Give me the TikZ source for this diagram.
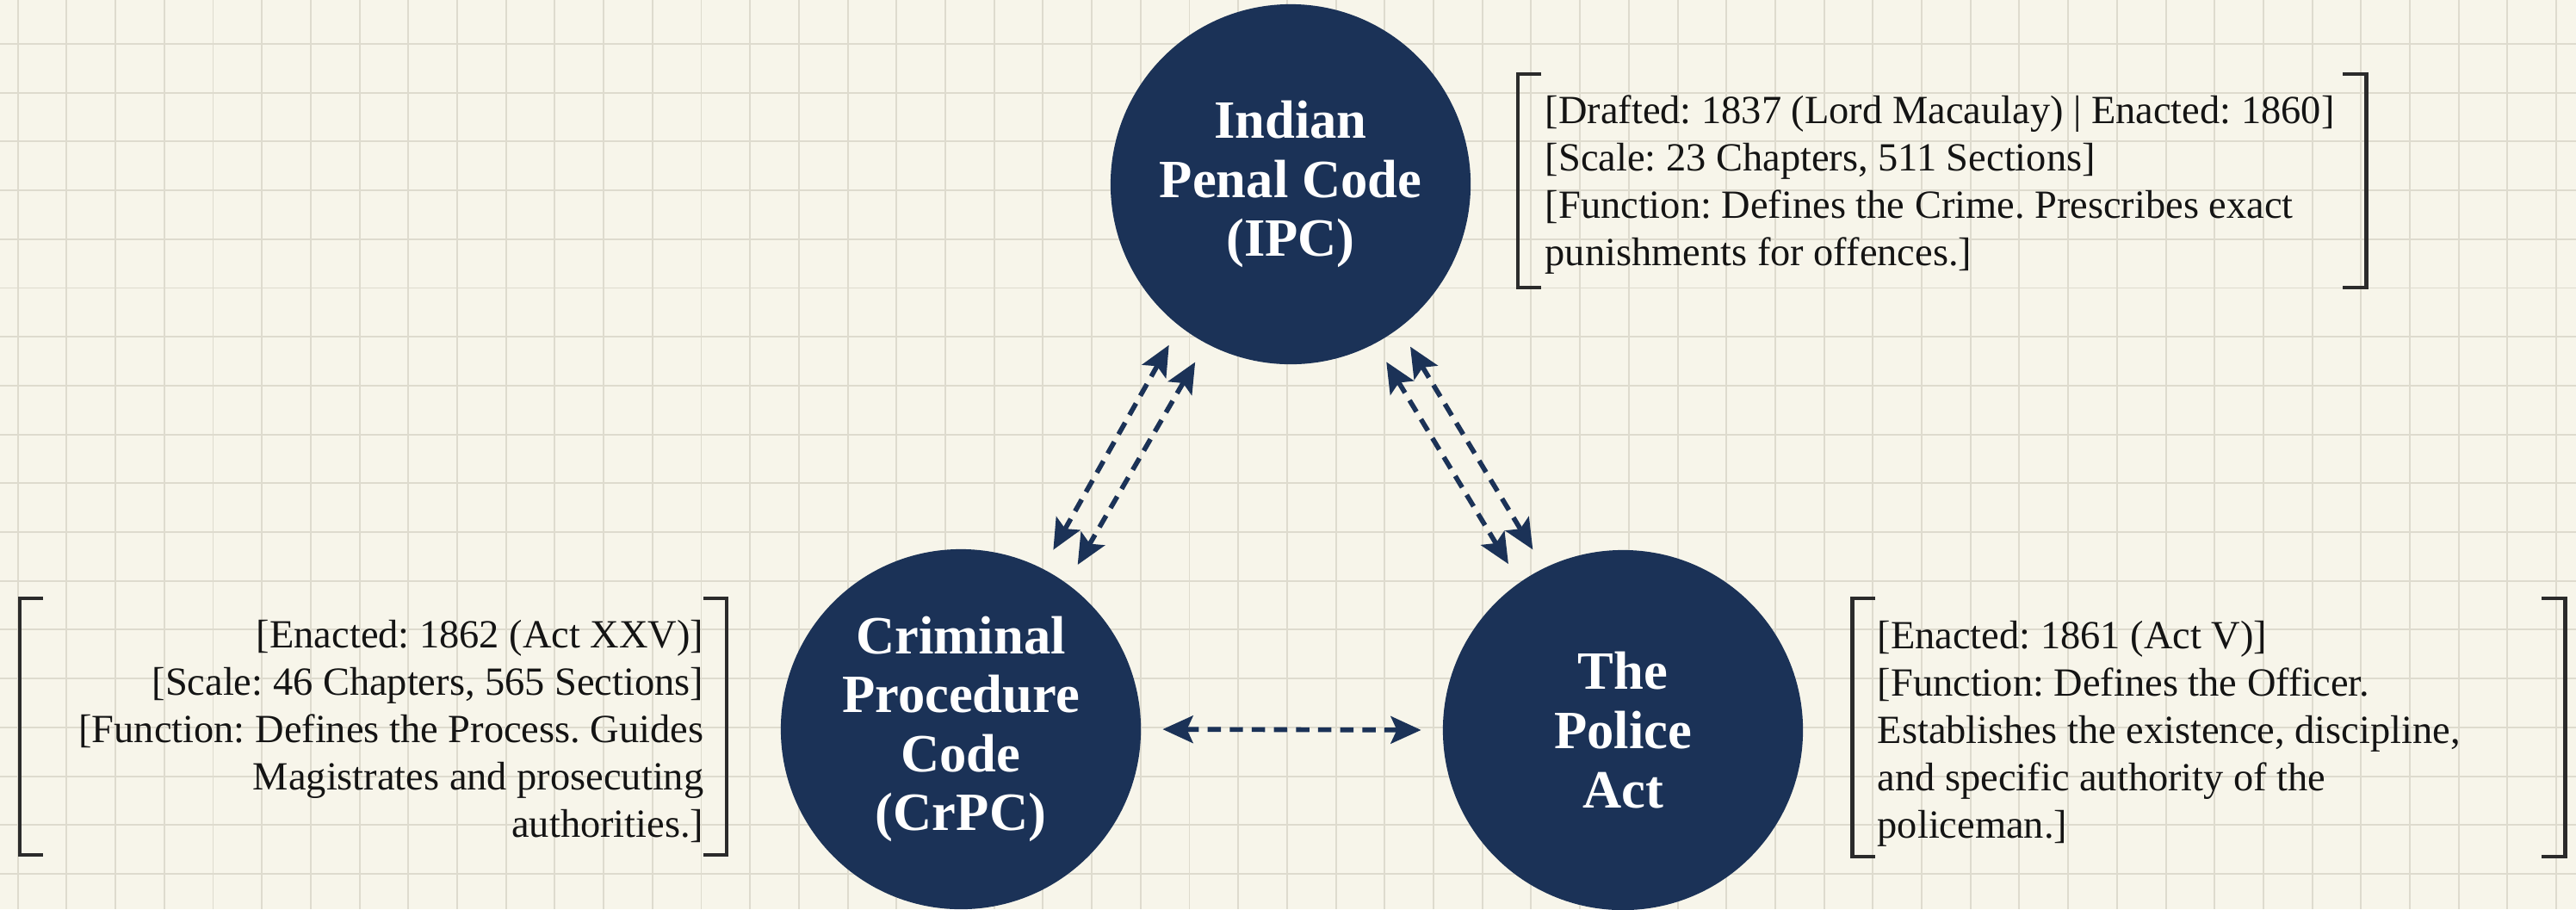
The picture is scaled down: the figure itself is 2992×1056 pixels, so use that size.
\documentclass[tikz,border=0pt]{standalone}
\usepackage{fontspec}
\setmainfont{Liberation Serif}
\usetikzlibrary{arrows.meta}
\definecolor{navy}{HTML}{1B3257}
\definecolor{paper}{HTML}{F7F5EA}
\definecolor{gridc}{HTML}{DEDBCE}
\definecolor{ink}{HTML}{141414}
\definecolor{brkc}{HTML}{2B2B2B}
\tikzset{
  circ/.style={circle, fill=navy, text=white, minimum size=4.18cm, inner sep=0pt,
    font=\bfseries\fontsize{17.8}{19.5}\selectfont, align=center},
  info/.style={font=\fontsize{13.2}{15.65}\selectfont, text=ink, inner sep=0pt},
  conn/.style={navy, line width=1.6pt, dash pattern=on 4.4pt off 2.9pt,
    {Stealth[length=10pt,width=9pt,inset=2pt]}-{Stealth[length=10pt,width=9pt,inset=2pt]},
    shorten <=7pt, shorten >=7pt},
  brk/.style={brkc, line width=1.4pt},
  gridline/.style={gridc, line width=0.55pt}
}
\begin{document}
\frenchspacing
\begin{tikzpicture}[x=0.01cm,y=-0.01cm]
\useasboundingbox (0,0) rectangle (2992,1056);
\fill[paper] (0,0) rectangle (2992,1056);
\foreach \i in {0,...,52} \draw[gridline] ({20.7+56.7*\i},0) -- ({20.7+56.7*\i},1056);
\foreach \j in {0,...,19} \draw[gridline] (0,{-5.7+56.7*\j}) -- (2992,{-5.7+56.7*\j});

\node[circ] (ipc) at (1499,214) {Indian\\Penal Code\\(IPC)};
\node[circ] (crpc) at (1116,847) {Criminal\\Procedure\\Code\\(CrPC)};
\node[circ] (police) at (1885,848) {The\\Police\\Act};

\draw[conn] (ipc.232.8) -- (crpc.63.9);
\draw[conn] (ipc.242.3) -- (crpc.54.7);
\draw[conn] (ipc.298.5) -- (police.125.4);
\draw[conn] (ipc.307.6) -- (police.116);
\draw[conn] (crpc.0) -- (police.180);

\node[info, anchor=north west, align=left] (ipcinfo) at (1794,104.5) {%
\strut[Drafted: 1837 (Lord Macaulay) | Enacted: 1860]\\
\strut[Scale: 23 Chapters, 511 Sections]\\
\strut[Function: Defines the Crime. Prescribes exact\\
\strut punishments for offences.]};
\draw[brk] (1790,86) -- (1763,86) -- (1763,334) -- (1790,334);
\draw[brk] (2721,86) -- (2748,86) -- (2748,334) -- (2721,334);

\node[info, anchor=north east, align=right] (crpcinfo) at (818,713.5) {%
\strut[Enacted: 1862 (Act XXV)]\\
\strut[Scale: 46 Chapters, 565 Sections]\\
\strut[Function: Defines the Process. Guides\\
\strut Magistrates and prosecuting\\
\strut authorities.]};
\draw[brk] (50,695) -- (23,695) -- (23,993) -- (50,993);
\draw[brk] (817,695) -- (844,695) -- (844,993) -- (817,993);

\node[info, anchor=north west, align=left] (policeinfo) at (2180,714.5) {%
\strut[Enacted: 1861 (Act V)]\\
\strut[Function: Defines the Officer.\\
\strut Establishes the existence, discipline,\\
\strut and specific authority of the\\
\strut policeman.]};
\draw[brk] (2178,695) -- (2151,695) -- (2151,995) -- (2178,995);
\draw[brk] (2952,695) -- (2979,695) -- (2979,995) -- (2952,995);
\end{tikzpicture}
\end{document}
